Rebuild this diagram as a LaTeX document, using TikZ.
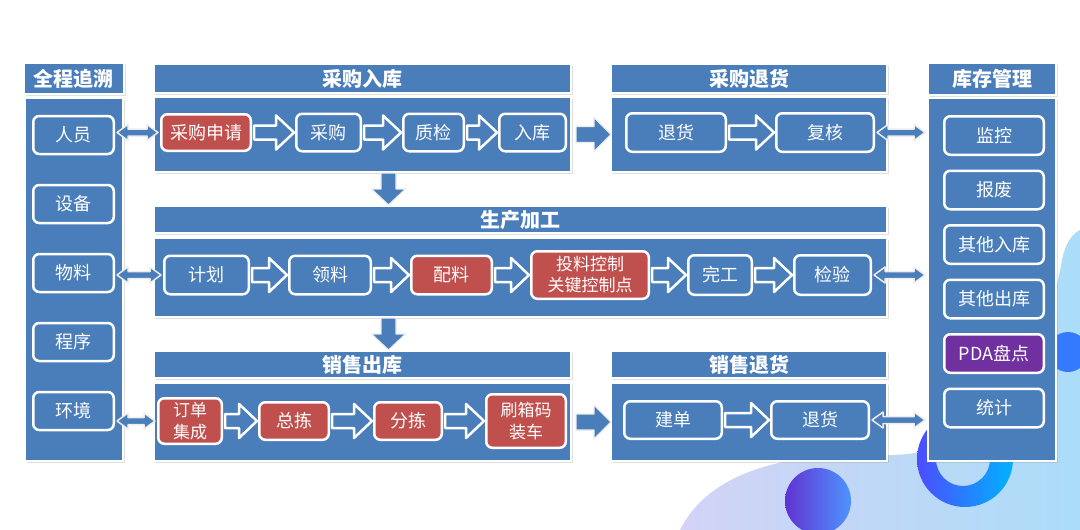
\documentclass[tikz,border=0pt]{standalone}
\usepackage{fontspec}
\setmainfont{Noto Sans CJK SC}
\usetikzlibrary{positioning,calc,shadows}

\definecolor{pblue}{HTML}{4A7EBB}
\definecolor{pred}{HTML}{C0504D}
\definecolor{ppurple}{HTML}{7030A0}
\definecolor{lav}{HTML}{D3D3F6}
\definecolor{sky}{HTML}{ABDDF8}

\begin{document}
\begin{tikzpicture}[x=1pt,y=-1pt,
  panel/.style={rectangle,fill=pblue,draw=white,line width=2pt,inner sep=0pt,
    drop shadow={shadow xshift=1.5pt,shadow yshift=-1.5pt,opacity=0.25}},
  ptitle/.style={panel,text=white,font=\bfseries\fontsize{20}{22}\selectfont},
  pbox/.style={rectangle,rounded corners=6pt,fill=pblue,draw=white,line width=2.5pt,
    inner sep=0pt,text=white,align=center,font=\fontsize{18}{21}\selectfont},
  rbox/.style={pbox,fill=pred},
  kbox/.style={pbox,minimum width=99.5pt,minimum height=38.5pt},
  hollow/.style={draw=white,fill=pblue,line width=2.5pt,line join=round,
    to path={let \p1=(\tikztostart),\p2=(\tikztotarget) in
      (\x1+2pt,\y1+7pt) -- (\x2-19pt,\y1+7pt) -- (\x2-19pt,\y1+17pt) -- (\x2-1pt,\y1)
      -- (\x2-19pt,\y1-17pt) -- (\x2-19pt,\y1-7pt) -- (\x1+2pt,\y1-7pt) -- cycle}},
  solidarr/.style={draw=white!85!gray,fill=pblue,line width=1.2pt,line join=round,
    to path={let \p1=(\tikztostart),\p2=(\tikztotarget) in
      (\x1+4pt,\y1+8pt) -- (\x2-16pt,\y1+8pt) -- (\x2-16pt,\y1+17pt) -- (\x2+1pt,\y1)
      -- (\x2-16pt,\y1-17pt) -- (\x2-16pt,\y1-8pt) -- (\x1+4pt,\y1-8pt) -- cycle}},
  downarr/.style={draw=white!85!gray,fill=pblue,line width=1.2pt,line join=round,
    to path={let \p1=(\tikztostart),\p2=(\tikztotarget) in
      (\x1-7.5pt,\y1) -- (\x1-7.5pt,\y2+16pt) -- (\x1-17pt,\y2+16pt) -- (\x1,\y2)
      -- (\x1+17pt,\y2+16pt) -- (\x1+7.5pt,\y2+16pt) -- (\x1+7.5pt,\y1) -- cycle}},
  dblarr/.style={draw=white!85!gray,fill=pblue,line width=1.5pt,line join=round,
    to path={let \p1=(\tikztostart),\p2=(\tikztotarget) in
      (\x1+2pt,\y1) -- (\x1+13pt,\y1+8pt) -- (\x1+13pt,\y1+3.5pt) -- (\x2-13pt,\y1+3.5pt)
      -- (\x2-13pt,\y1+8pt) -- (\x2-2pt,\y1) -- (\x2-13pt,\y1-8pt) -- (\x2-13pt,\y1-3.5pt)
      -- (\x1+13pt,\y1-3.5pt) -- (\x1+13pt,\y1-8pt) -- cycle}}]

  % background
  \useasboundingbox (0,0) rectangle (1080,530);
  \clip (0,0) rectangle (1080,530);
  \fill[white] (0,0) rectangle (1080,530);
  \shade[left color=lav,right color=sky] (680,530) .. controls (710,470) and (790,452) .. (880,455)
    .. controls (990,458) and (1040,380) .. (1062,260) .. controls (1066,240) and (1075,232) .. (1080,230)
    -- (1080,530) -- cycle;
  \shade[left color=blue!55!violet!80,right color=blue!60!cyan!70] (818,501) circle (33pt);
  \shade[left color=blue!70!white,right color=cyan!70!blue,even odd rule]
    (965,459) circle (48pt) (963,459) circle (27pt);
  \fill[blue!65!cyan!80] (1068,352) circle (20pt);

  % 全程追溯
  \node[ptitle,minimum width=100pt,minimum height=31pt] (zstitle) at (74,78.5) {全程追溯};
  \node[panel,minimum width=98pt,minimum height=363pt] (zsbody) at (74,279.5) {};
  \node[pbox,minimum width=80.5pt,minimum height=38pt] (ry) at (73.5,135) {人员};
  \node[pbox,minimum width=80.5pt,minimum height=38pt,below=28.5pt of ry] (sb) {设备};
  \node[pbox,minimum width=80.5pt,minimum height=38pt,below=28.5pt of sb] (wl) {物料};
  \node[pbox,minimum width=80.5pt,minimum height=38pt,below=28.5pt of wl] (cx) {程序};
  \node[pbox,minimum width=80.5pt,minimum height=38pt,below=28.5pt of cx] (hj) {环境};

  % 采购入库
  \node[ptitle,minimum width=417pt,minimum height=29pt] (cgtitle) at (362.5,78.5) {采购入库};
  \node[panel,minimum width=417pt,minimum height=75pt] (cgbody) at (362.5,134.5) {};
  \node[rbox,minimum width=89.5pt,minimum height=36.5pt] (cgsq) at (206,132.5) {采购申请};
  \node[pbox,minimum width=64.5pt,minimum height=37.5pt,right=43pt of cgsq] (cg) {采购};
  \node[pbox,minimum width=60.5pt,minimum height=37.5pt,right=40pt of cg] (zj) {质检};
  \node[pbox,minimum width=66.5pt,minimum height=37.5pt,right=33pt of zj] (rk) {入库};

  % 采购退货
  \node[ptitle,minimum width=276pt,minimum height=29pt] (thtitle) at (749,78.5) {采购退货};
  \node[panel,minimum width=276pt,minimum height=75pt] (thbody) at (749,134.5) {};
  \node[pbox,minimum width=99.5pt,minimum height=38.5pt] (th) at (676,132.5) {退货};
  \node[pbox,minimum width=97.5pt,minimum height=38.5pt,right=48pt of th] (fh) {复核};

  % 库存管理
  \node[ptitle,minimum width=128pt,minimum height=32pt] (kctitle) at (992,79) {库存管理};
  \node[panel,minimum width=128pt,minimum height=363pt] (kcbody) at (992,279.5) {};
  \node[kbox] (jk) at (994,135.5) {监控};
  \node[kbox,below=13.5pt of jk] (bf) {报废};
  \node[kbox,below=13.5pt of bf] (qr) {其他入库};
  \node[kbox,below=13.5pt of qr] (qc) {其他出库};
  \node[kbox,fill=ppurple,below=13.5pt of qc] (pda) {PDA盘点};
  \node[kbox,below=13.5pt of pda] (tj) {统计};

  % 生产加工
  \node[ptitle,minimum width=733pt,minimum height=27pt] (sctitle) at (520.5,219.5) {生产加工};
  \node[panel,minimum width=733pt,minimum height=79pt] (scbody) at (520.5,277.5) {};
  \node[pbox,minimum width=84.5pt,minimum height=38.5pt] (jh) at (206.5,275) {计划};
  \node[pbox,minimum width=81.5pt,minimum height=38.5pt,right=38pt of jh] (ll) {领料};
  \node[rbox,minimum width=80.5pt,minimum height=38.5pt,right=38pt of ll] (pl) {配料};
  \node[rbox,minimum width=117.5pt,minimum height=47.5pt,right=37pt of pl,
    font=\fontsize{17}{21}\selectfont] (tl) {投料控制\\关键控制点};
  \node[pbox,minimum width=63.5pt,minimum height=39.5pt,right=37pt of tl] (wg) {完工};
  \node[pbox,minimum width=76.5pt,minimum height=39.5pt,right=40pt of wg] (jy) {检验};

  % 销售出库
  \node[ptitle,minimum width=417pt,minimum height=27pt] (xstitle) at (362.5,364.5) {销售出库};
  \node[panel,minimum width=417pt,minimum height=78pt] (xsbody) at (362.5,422) {};
  \node[rbox,minimum width=63.5pt,minimum height=45.5pt,
    font=\fontsize{17}{22}\selectfont] (dd) at (190,421) {订单\\集成};
  \node[rbox,minimum width=69.5pt,minimum height=37.5pt,right=35pt of dd] (zjian) {总拣};
  \node[rbox,minimum width=67.5pt,minimum height=37.5pt,right=43pt of zjian] (fj) {分拣};
  \node[rbox,minimum width=79.5pt,minimum height=53.5pt,right=42pt of fj,
    font=\fontsize{17}{22}\selectfont] (sx) {刷箱码\\装车};

  % 销售退货
  \node[ptitle,minimum width=276pt,minimum height=27pt] (xttitle) at (749,364.5) {销售退货};
  \node[panel,minimum width=276pt,minimum height=78pt] (xtbody) at (749,422) {};
  \node[pbox,minimum width=97.5pt,minimum height=37.5pt] (jd) at (673,420) {建单};
  \node[pbox,minimum width=97.5pt,minimum height=37.5pt,right=47pt of jd] (th2) {退货};

  % flow arrows
  \path (cgsq.east) edge[hollow] (cg.west)
        (cg.east) edge[hollow] (zj.west)
        (zj.east) edge[hollow] (rk.west)
        (th.east) edge[hollow] (fh.west)
        (jh.east) edge[hollow] (ll.west)
        (ll.east) edge[hollow] (pl.west)
        (pl.east) edge[hollow] (tl.west)
        (tl.east) edge[hollow] (wg.west)
        (wg.east) edge[hollow] (jy.west)
        (dd.east) edge[hollow] (zjian.west)
        (zjian.east) edge[hollow] (fj.west)
        (fj.east) edge[hollow] (sx.west)
        (jd.east) edge[hollow] (th2.west);

  % between panels
  \path (cgbody.east) edge[solidarr] (thbody.west)
        (xsbody.east) edge[solidarr] (xtbody.west);
  \path ($(cgbody.south)+(26,0)$) edge[downarr] (sctitle.north)
        ($(scbody.south -| cgbody.south)+(26,0)$) edge[downarr] (xstitle.north);

  % two-way links
  \path (ry.east |- cgsq.west) edge[dblarr] (cgsq.west)
        (wl.east |- jh.west) edge[dblarr] (jh.west)
        (hj.east |- dd.west) edge[dblarr] (dd.west)
        (fh.east) edge[dblarr] (fh.east -| kcbody.west)
        (jy.east) edge[dblarr] (jy.east -| kcbody.west)
        (th2.east) edge[dblarr] (th2.east -| kcbody.west);
\end{tikzpicture}
\end{document}
